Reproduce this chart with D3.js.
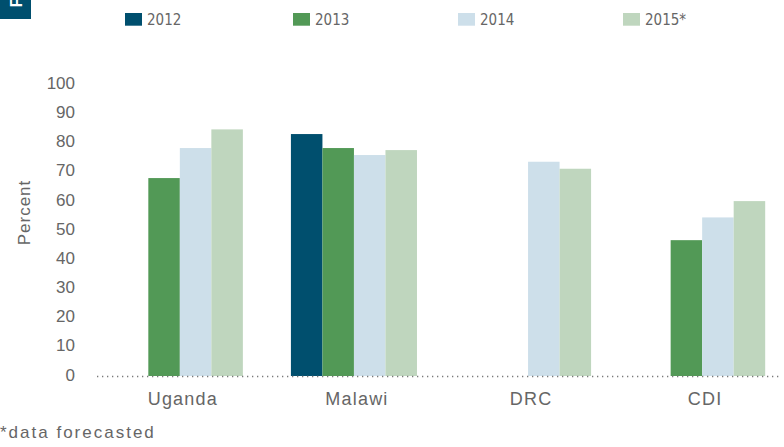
<!DOCTYPE html>
<html>
<head>
<meta charset="utf-8">
<script src="https://cdn.jsdelivr.net/npm/d3@7"></script>
<style>
  html, body { margin: 0; padding: 0; background: #fff; }
  svg { display: block; }
</style>
</head>
<body>
<svg id="chart" width="784" height="447"></svg>
<script>
const categories = ["Uganda", "Malawi", "DRC", "CDI"];
const years = ["2012", "2013", "2014", "2015*"];
const values2012 = [null, 83.0, null, null];
const values2013 = [67.9, 78.2, null, 46.6];
const values2014 = [78.2, 75.8, 73.5, 54.4];
const values2015 = [84.6, 77.5, 71.1, 60.0];
const yTicks = [0, 10, 20, 30, 40, 50, 60, 70, 80, 90, 100];
const colors = ["#004f6e", "#529956", "#cddfea", "#bfd6be"];

const series = [values2012, values2013, values2014, values2015];
const svg = d3.select("#chart");
const textColor = "#666666";
const bodyFont = "'Liberation Sans', Arial, Helvetica, sans-serif";
const narrowFont = "'Liberation Sans Narrow', 'DejaVu Sans Condensed', 'Liberation Sans', sans-serif";

// corner marker
svg.append("rect").attr("x", 0).attr("y", 0).attr("width", 31).attr("height", 19).attr("fill", "#004f6e");
svg.append("text").attr("transform", "translate(22,7.5) rotate(-90)")
  .attr("fill", "#fff").attr("font-family", bodyFont).attr("font-weight", "bold")
  .attr("font-size", 17).text("F");

const x = d3.scaleBand().domain(categories).range([90, 792]).paddingInner(0.276).paddingOuter(0.154);
const xs = d3.scaleBand().domain(years).range([0, x.bandwidth()]);
const y = d3.scaleLinear().domain([0, 100]).range([376, 84.5]);

// legend
const legendX = [125, 293, 458, 623];
const lg = svg.append("g");
years.forEach((yr, i) => {
  lg.append("rect").attr("x", legendX[i]).attr("y", 13).attr("width", 17).attr("height", 12.7).attr("fill", colors[i]);
  lg.append("text").attr("x", legendX[i] + 22).attr("y", 24.5)
    .attr("font-family", narrowFont).attr("font-size", 15).attr("fill", textColor).text(yr);
});

// bars
const rows = [];
categories.forEach((c, ci) => {
  years.forEach((yr, yi) => {
    const v = series[yi][ci];
    if (v != null) rows.push({ c, yr, v, color: colors[yi] });
  });
});
svg.append("g").selectAll("rect").data(rows).join("rect")
  .attr("x", d => x(d.c) + xs(d.yr))
  .attr("width", xs.bandwidth())
  .attr("y", d => y(d.v))
  .attr("height", d => y(0) - y(d.v))
  .attr("fill", d => d.color);

// baseline (dotted)
svg.append("line").attr("x1", 97).attr("x2", 782).attr("y1", y(0) + 0.5).attr("y2", y(0) + 0.5)
  .attr("stroke", "#7a7a7a").attr("stroke-width", 1.3).attr("stroke-dasharray", "1.3,3.7");

// y axis labels
const yAxis = d3.axisLeft(y).tickValues(yTicks).tickSize(0).tickPadding(0);
const ya = svg.append("g").attr("transform", "translate(75,0)").call(yAxis);
ya.select(".domain").remove();
ya.selectAll("text").attr("font-family", bodyFont).attr("font-size", 17)
  .attr("fill", textColor).attr("dy", null).attr("y", 4).attr("x", 0);

// x axis labels
const xAxis = d3.axisBottom(x).tickSize(0).tickPadding(0);
const xa = svg.append("g").attr("transform", "translate(3,0)").call(xAxis);
xa.select(".domain").remove();
xa.selectAll("text").attr("font-family", bodyFont).attr("font-size", 18)
  .attr("fill", textColor).attr("letter-spacing", "1.2px").attr("dy", null).attr("y", 405);

// y title
svg.append("text").attr("transform", "translate(29.5,212.5) rotate(-90)")
  .attr("text-anchor", "middle").attr("font-family", bodyFont).attr("font-size", 17)
  .attr("letter-spacing", "1px").attr("fill", textColor).text("Percent");

// footnote
svg.append("text").attr("x", 0).attr("y", 438).attr("font-family", bodyFont).attr("font-size", 17)
  .attr("letter-spacing", "2px").attr("fill", textColor).text("*data forecasted");
</script>
</body>
</html>
